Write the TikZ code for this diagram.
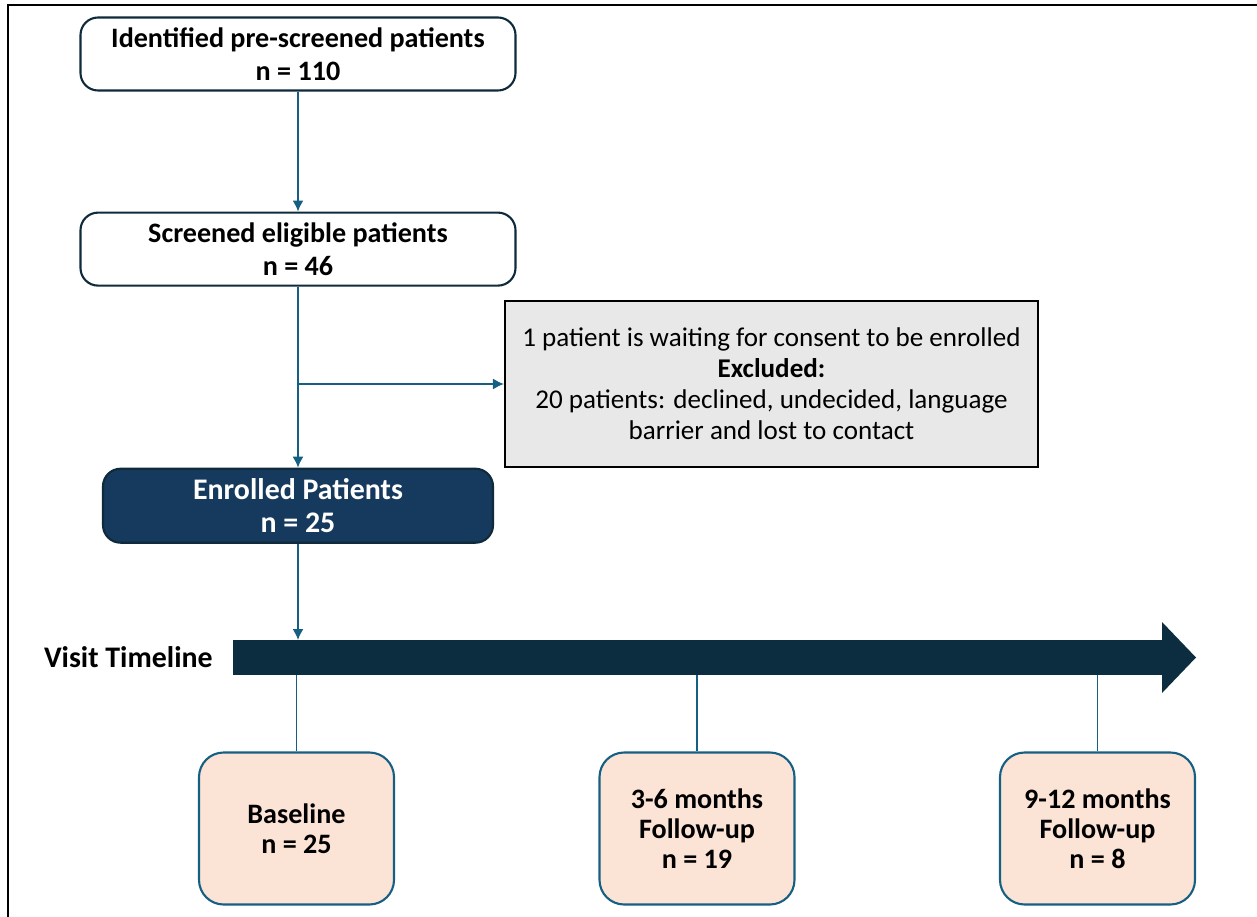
\documentclass[tikz,border=0pt]{standalone}
\usepackage{fontspec}
\setmainfont{Carlito}
\usetikzlibrary{arrows.meta,positioning}
\definecolor{cfNavy}{HTML}{0E2A3B}
\definecolor{cfEnroll}{HTML}{163A5E}
\definecolor{cfDeep}{HTML}{0B2D3F}
\definecolor{cfTeal}{HTML}{156082}
\definecolor{cfPeach}{HTML}{FBE3D6}
\definecolor{cfGrey}{HTML}{E8E8E8}
\tikzset{
    >=Latex,
    box/.style={draw=cfNavy, line width=1.2pt, rounded corners=10pt, align=center, fill=white, text=black, font=\fontsize{16}{18.6}\selectfont\bfseries, minimum width=8.7cm, minimum height=1.46cm, inner sep=2pt},
    enrolbox/.style={box, draw=cfNavy, fill=cfEnroll, text=white, font=\fontsize{17}{18.6}\selectfont\bfseries, minimum width=7.8cm, minimum height=1.48cm},
    exclbox/.style={draw=black, line width=1.2pt, align=center, fill=cfGrey, text=black, font=\fontsize{15.4}{17.6}\selectfont, minimum width=10.66cm, minimum height=3.32cm, inner sep=2pt},
    visitbox/.style={draw=cfTeal, line width=1.2pt, rounded corners=14pt, align=center, fill=cfPeach, text=black, font=\fontsize{16}{17}\selectfont\bfseries, minimum width=3.9cm, minimum height=3.04cm, inner sep=2pt},
    tbar/.style={fill=cfDeep, minimum width=18.58cm, minimum height=0.7cm, inner sep=0pt, outer sep=0pt},
    flowarrow/.style={-{Latex[length=2.2mm, width=2.2mm]}, line width=0.9pt, draw=cfTeal},
    dropline/.style={line width=1pt, draw=cfTeal}
}
\begin{document}
\begin{tikzpicture}
    \useasboundingbox (0,0) rectangle (25.14,-18.34);
    % frame
    \draw[line width=0.8pt] (0.16,-18.34) -- (0.16,-0.1) -- (25.14,-0.1);
    % flow
    \node[box] (ident) at (5.96,-1.08) {Identified pre-screened patients\\n = 110};
    \node[box, below=2.4cm of ident] (screen) {Screened eligible patients\\n = 46};
    \node[enrolbox, below=3.62cm of screen] (enrolled) {Enrolled Patients\\n = 25};
    \node[exclbox] (excl) at (15.43,-7.68) {1 patient is waiting for consent to be enrolled\\\textbf{Excluded:}\\20 patients: declined, undecided, language\\barrier and lost to contact};
    % timeline
    \node[tbar] (tbar) at (13.95,-13.15) {};
    \fill[cfDeep] ([yshift=3.6mm]tbar.north east) -- ([xshift=6.8mm]tbar.east) -- ([yshift=-3.6mm]tbar.south east) -- cycle;
    \node[left=0.4cm of tbar, inner sep=0pt, font=\fontsize{17}{18}\selectfont\bfseries] (vislabel) {Visit Timeline};
    \node[visitbox] (base) at (5.93,-16.57) {Baseline\\n = 25};
    \node[visitbox] (mid) at (13.94,-16.57) {3-6 months\\Follow-up\\n = 19};
    \node[visitbox] (late) at (21.95,-16.57) {9-12 months\\Follow-up\\n = 8};
    % connectors
    \draw[flowarrow] (ident) -- (screen);
    \draw[flowarrow] (screen) -- (enrolled);
    \draw[flowarrow] (screen.south |- excl.west) -- (excl.west);
    \draw[flowarrow] (enrolled) -- (enrolled.south |- tbar.north);
    \foreach \v in {base,mid,late}
        \draw[dropline] (tbar.south -| \v.north) -- (\v.north);
\end{tikzpicture}
\end{document}
